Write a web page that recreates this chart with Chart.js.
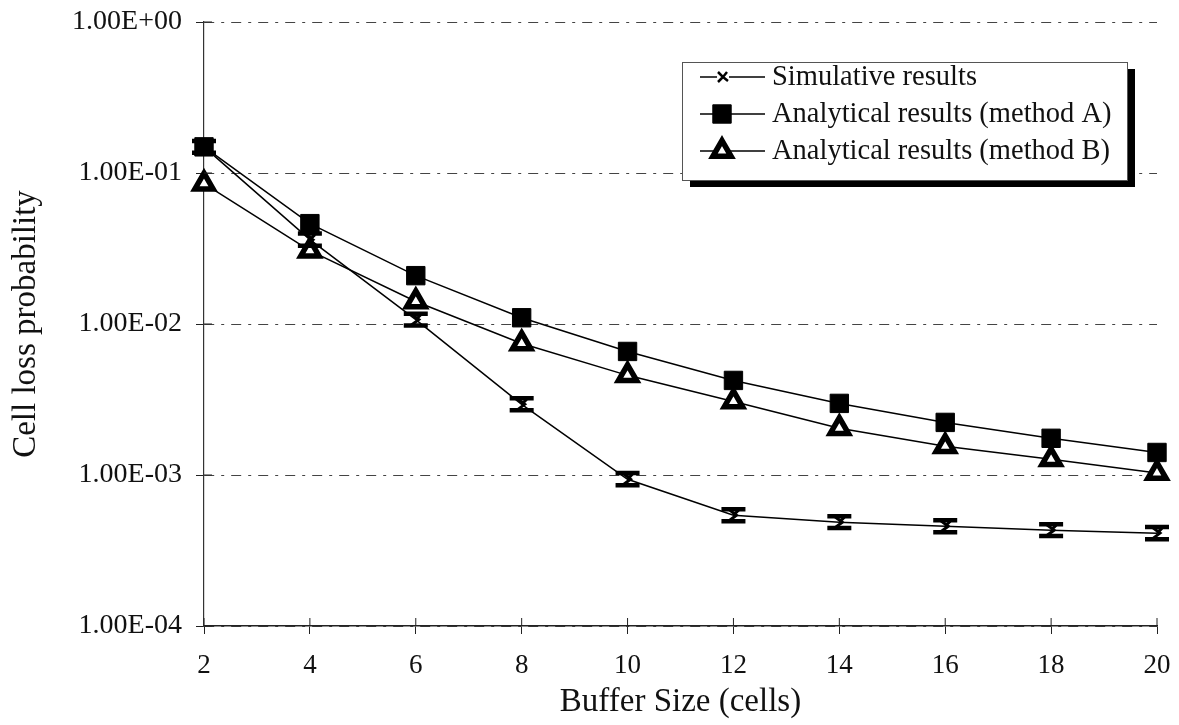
<!DOCTYPE html>
<html>
<head>
<meta charset="utf-8">
<script src="https://cdn.jsdelivr.net/npm/chart.js@4/dist/chart.umd.min.js"></script>
<style>
html,body{margin:0;padding:0;background:#fff;}
#wrap{width:1179px;height:725px;}
</style>
</head>
<body>
<div id="wrap"><canvas id="lossChart" width="1179" height="725"></canvas></div>
<script>
const bufferSizes = [2,4,6,8,10,12,14,16,18,20];

const simulative = [0.149,0.0362,0.0107,0.00294,0.000937,0.000542,0.000487,0.000458,0.000431,0.000412];
const simLow     = [0.136,0.0330,0.00977,0.00268,0.000855,0.000494,0.000445,0.000418,0.000394,0.000376];
const simHigh    = [0.163,0.0397,0.0117,0.00322,0.00103,0.000594,0.000533,0.000502,0.000472,0.000452];

const methodA = [0.149,0.0462,0.0209,0.0110,0.00658,0.00423,0.00298,0.00223,0.00175,0.00141];
const methodB = [0.0849,0.0306,0.0141,0.00743,0.00457,0.00307,0.00204,0.00155,0.00127,0.00103];

const yTicks = [1e-4,1e-3,1e-2,1e-1,1];
const xTicks = [2,4,6,8,10,12,14,16,18,20];

const serif = "'Liberation Serif','Times New Roman',serif";

function sci(v){
const e = Math.round(Math.log10(v));
const m = v/Math.pow(10,e);
return m.toFixed(2)+"E"+(e<0?"-":"+")+String(Math.abs(e)).padStart(2,"0");
}

function pts(vals){
return bufferSizes.map((x,i)=>({x:x,y:vals[i]}));
}

/* simulative marker: capped error bar with a small twist in the middle */
function drawSimGlyph(ctx,x,yTop,yBot){
ctx.save();
ctx.strokeStyle="#000";
ctx.lineWidth=4.5;
ctx.beginPath();
ctx.moveTo(x-12,yTop);ctx.lineTo(x+12,yTop);
ctx.moveTo(x-12,yBot);ctx.lineTo(x+12,yBot);
ctx.stroke();
ctx.lineWidth=3;
const ym=(yTop+yBot)/2;
ctx.beginPath();
ctx.moveTo(x-5,yTop);ctx.lineTo(x+3,ym);ctx.lineTo(x-5,yBot);
ctx.moveTo(x+5,yTop+1);ctx.lineTo(x,ym);
ctx.stroke();
ctx.restore();
}

const errorBars = {
id:"errorBars",
afterDatasetsDraw(chart){
const {ctx,scales:{x,y}} = chart;
bufferSizes.forEach((b,i)=>{
const px=x.getPixelForValue(b);
drawSimGlyph(ctx,px,y.getPixelForValue(simHigh[i]),y.getPixelForValue(simLow[i]));
});
}
};

/* tick marks that cross the axis lines */
const crossTicks = {
id:"crossTicks",
afterDraw(chart){
const {ctx,chartArea:a,scales:{x,y}} = chart;
ctx.save();
ctx.strokeStyle="#222";
ctx.lineWidth=1;
ctx.beginPath();
xTicks.forEach(t=>{const px=x.getPixelForValue(t);ctx.moveTo(px,a.bottom);ctx.lineTo(px,a.bottom-8);});
yTicks.forEach(t=>{const py=y.getPixelForValue(t);ctx.moveTo(a.left,py);ctx.lineTo(a.left+8,py);});
ctx.stroke();
ctx.restore();
}
};

/* boxed legend with drop shadow inside the plot */
const boxLegend = {
id:"boxLegend",
afterDraw(chart){
const ctx=chart.ctx;
const a=chart.chartArea;
const L=a.left+478, T=a.top+40, W=445, H=118;
ctx.save();
ctx.fillStyle="#000";
ctx.fillRect(L+8,T+7,W,H);
ctx.fillStyle="#fff";
ctx.fillRect(L,T,W,H);
ctx.strokeStyle="#555";
ctx.lineWidth=1;
ctx.strokeRect(L+0.5,T+0.5,W,H);
ctx.font="28.5px "+serif;
ctx.textBaseline="middle";
ctx.fillStyle="#111";
const rows=[T+15,T+52,T+89];
chart.data.datasets.forEach((ds,i)=>{
const ry=rows[i];
const mx=L+40;
ctx.strokeStyle="#000";
ctx.lineWidth=1.5;
ctx.beginPath();ctx.moveTo(L+18,ry);ctx.lineTo(L+83,ry);ctx.stroke();
if(i===0){
ctx.fillStyle="#fff";ctx.fillRect(mx-5,ry-6,12,12);
ctx.lineWidth=2.5;
ctx.beginPath();
ctx.moveTo(mx-4,ry-5);ctx.lineTo(mx+1,ry);ctx.lineTo(mx-4,ry+5);
ctx.moveTo(mx+5,ry-5);ctx.lineTo(mx+1,ry);ctx.lineTo(mx+6,ry+4);
ctx.stroke();
}else{
ctx.fillStyle=ds.pointBackgroundColor;
ctx.strokeStyle="#000";
ctx.lineWidth=ds.pointBorderWidth;
Chart.helpers.drawPoint(ctx,{pointStyle:ds.pointStyle,radius:ds.pointRadius,borderWidth:ds.pointBorderWidth,rotation:0},mx,ry);
}
ctx.fillStyle="#111";
ctx.fillText(ds.label,L+90,ry+1);
});
ctx.restore();
}
};

const ctx = document.getElementById("lossChart");

let chart = new Chart(ctx,{
type:"line",
data:{
datasets:[
{
label:"Simulative results",
data:pts(simulative),
borderColor:"#000",
borderWidth:1.5,
pointRadius:0,
clip:false,
tension:0
},
{
label:"Analytical results (method A)",
data:pts(methodA),
borderColor:"#000",
borderWidth:1.5,
pointStyle:"rect",
pointRadius:13,
pointBackgroundColor:"#000",
pointBorderColor:"#000",
pointBorderWidth:1,
clip:false,
tension:0
},
{
label:"Analytical results (method B)",
data:pts(methodB),
borderColor:"#000",
borderWidth:1.5,
pointStyle:"triangle",
pointRadius:10.5,
pointBackgroundColor:"#fff",
pointBorderColor:"#000",
pointBorderWidth:5.5,
clip:false,
tension:0
}
]
},
options:{
responsive:false,
animation:false,
devicePixelRatio:1,
layout:{padding:{top:22,right:22,left:0,bottom:0}},
plugins:{
legend:{display:false},
tooltip:{enabled:false}
},
scales:{
x:{
type:"linear",
min:2,max:20,
afterBuildTicks:s=>{s.ticks=xTicks.map(v=>({value:v}));},
afterFit:s=>{s.height=99;s.paddingLeft=0;s.paddingRight=0;},
grid:{drawOnChartArea:false,drawTicks:true,tickLength:8,color:"#222"},
border:{color:"#222",width:1.5},
ticks:{color:"#111",font:{family:serif,size:27},padding:16,maxRotation:0},
title:{display:true,text:"Buffer Size (cells)",color:"#111",font:{family:serif,size:33},padding:{top:0,bottom:3}}
},
y:{
type:"logarithmic",
min:1e-4,max:1,
afterBuildTicks:s=>{s.ticks=yTicks.map(v=>({value:v}));},
afterFit:s=>{s.width=204;s.paddingTop=0;s.paddingBottom=0;},
grid:{color:"#444",lineWidth:1,tickLength:8,tickColor:"#222",tickBorderDash:[]},
border:{color:"#333",width:1.2,dash:[10,7,3,7]},
ticks:{color:"#111",font:{family:serif,size:28},padding:14,callback:v=>sci(v)},
title:{display:true,text:"Cell loss probability",color:"#111",font:{family:serif,size:33},padding:{top:7,bottom:0}}
}
}
},
plugins:[errorBars,crossTicks,boxLegend]
});
</script>
</body>
</html>
